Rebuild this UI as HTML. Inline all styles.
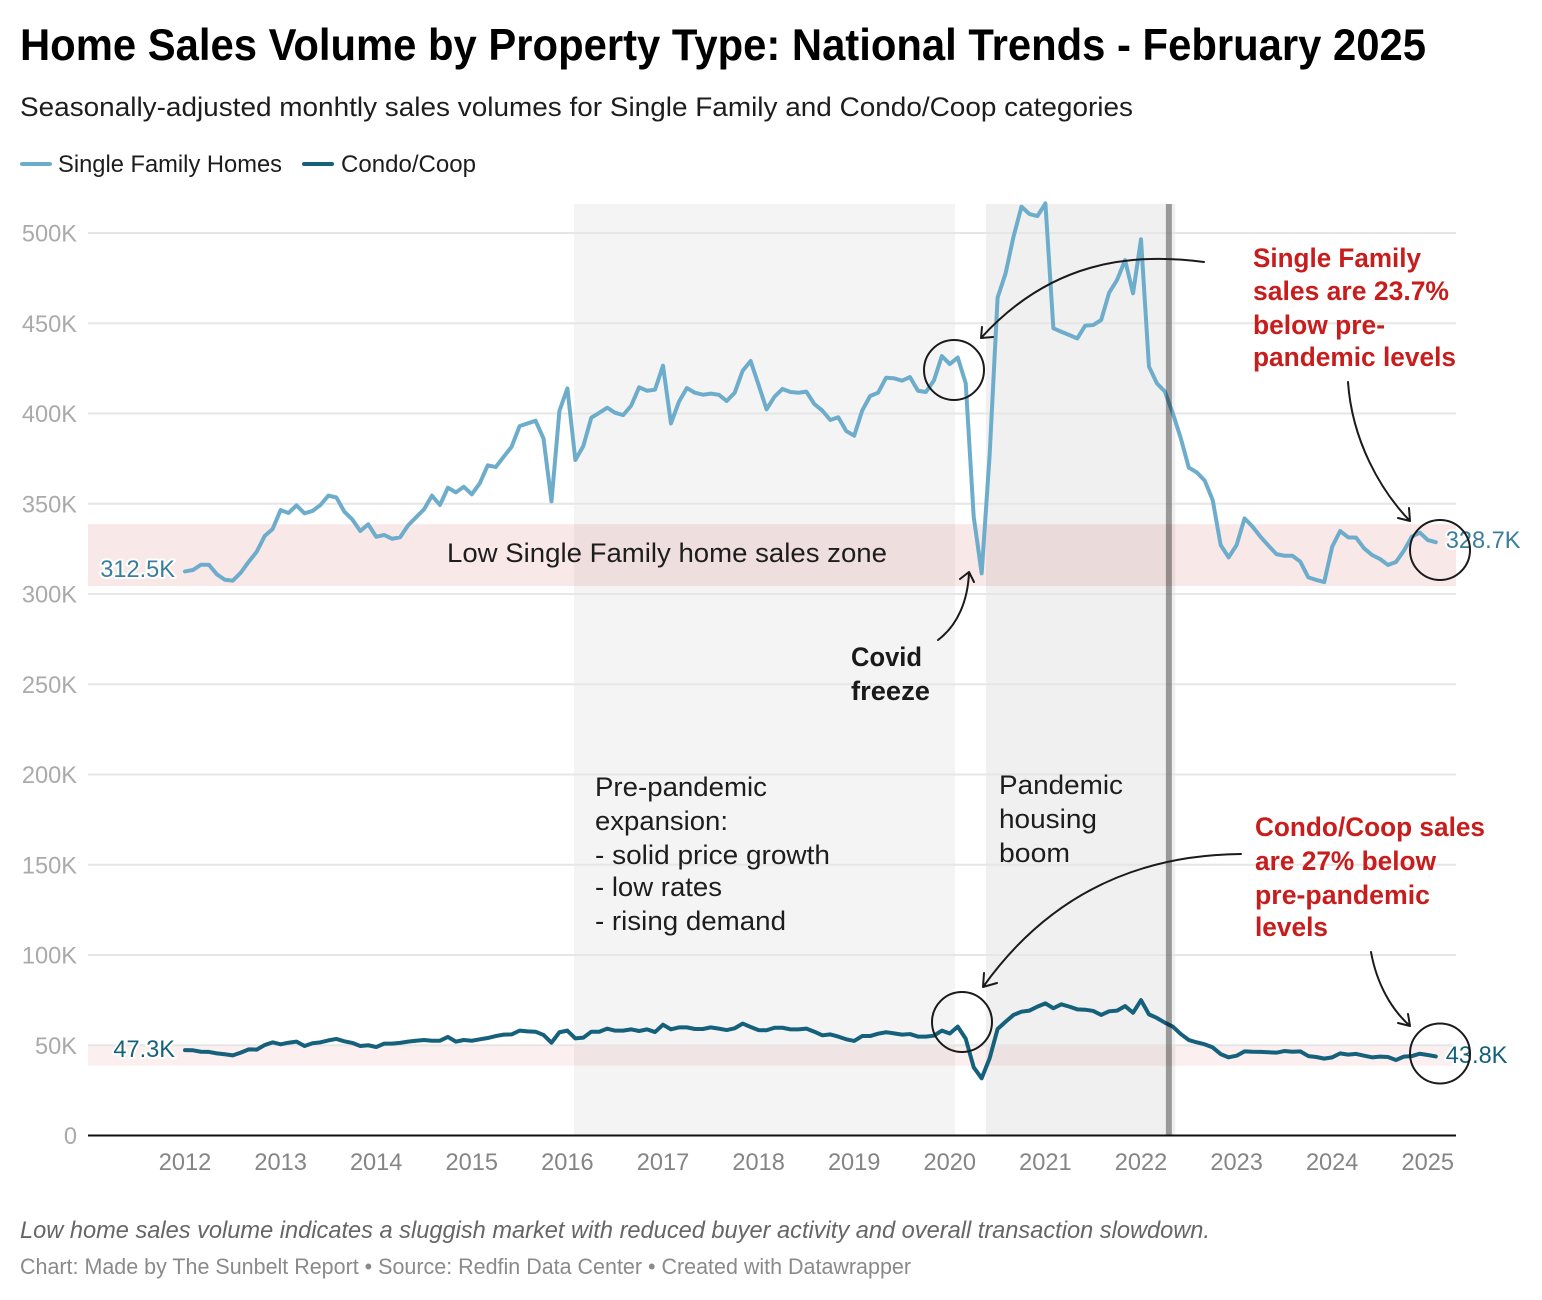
<!DOCTYPE html>
<html lang="en">
<head>
<meta charset="utf-8">
<title>Home Sales Volume by Property Type</title>
<style>
html,body{margin:0;padding:0;background:#fff;}
body{width:1542px;height:1300px;overflow:hidden;}
svg{display:block;font-family:"Liberation Sans",Arial,sans-serif;}
.note{font-size:27px;fill:#1d1d1d;}
.red{font-size:27px;font-weight:700;fill:#c71e1d;}
.tick-y{font-size:23.6px;fill:#aaaaaa;text-anchor:end;}
.tick-x{font-size:23.6px;fill:#858585;text-anchor:middle;}
.dl{font-size:23.6px;paint-order:stroke;stroke:#fff;stroke-width:4px;stroke-linejoin:round;}
.arrow{fill:none;stroke:#1a1a1a;stroke-width:2;stroke-linecap:round;stroke-linejoin:round;}
.circ{fill:none;stroke:#1a1a1a;stroke-width:2;}
</style>
</head>
<body>
<svg id="chart" width="1542" height="1300" viewBox="0 0 1542 1300" xmlns="http://www.w3.org/2000/svg">
  <text x="20" y="60" font-size="44.5" font-weight="700" fill="#000" textLength="1406" lengthAdjust="spacingAndGlyphs">Home Sales Volume by Property Type: National Trends - February 2025</text>
  <text x="20" y="116" font-size="26.5" fill="#1d1d1d" textLength="1113" lengthAdjust="spacingAndGlyphs">Seasonally-adjusted monhtly sales volumes for Single Family and Condo/Coop categories</text>

  <g>
    <line x1="22" x2="50" y1="164" y2="164" stroke="#6dadcb" stroke-width="4" stroke-linecap="round"/>
    <text x="58" y="172" font-size="23.6" fill="#1d1d1d" textLength="224" lengthAdjust="spacingAndGlyphs">Single Family Homes</text>
    <line x1="304" x2="332" y1="164" y2="164" stroke="#15607a" stroke-width="4" stroke-linecap="round"/>
    <text x="341" y="172" font-size="23.6" fill="#1d1d1d" textLength="135" lengthAdjust="spacingAndGlyphs">Condo/Coop</text>
  </g>

  <g id="shades"></g>
  <g id="grid"></g>
  <g id="bands"></g>
  <g id="yaxis"></g>
  <g id="xaxis"></g>
  <g id="series"></g>
  <g id="marker"></g>
  <g id="labels"></g>

  <text class="note" x="447" y="562" textLength="440" lengthAdjust="spacingAndGlyphs">Low Single Family home sales zone</text>

  <g class="note">
    <text x="595" y="796" textLength="172" lengthAdjust="spacingAndGlyphs">Pre-pandemic</text>
    <text x="595" y="830" textLength="133" lengthAdjust="spacingAndGlyphs">expansion:</text>
    <text x="595" y="864" textLength="235" lengthAdjust="spacingAndGlyphs">- solid price growth</text>
    <text x="595" y="896" textLength="127" lengthAdjust="spacingAndGlyphs">- low rates</text>
    <text x="595" y="930" textLength="191" lengthAdjust="spacingAndGlyphs">- rising demand</text>
  </g>
  <g class="note">
    <text x="999" y="794" textLength="124" lengthAdjust="spacingAndGlyphs">Pandemic</text>
    <text x="999" y="828" textLength="98" lengthAdjust="spacingAndGlyphs">housing</text>
    <text x="999" y="862" textLength="71" lengthAdjust="spacingAndGlyphs">boom</text>
  </g>
  <g font-size="27" font-weight="700" fill="#1a1a1a">
    <text x="851" y="666" textLength="71" lengthAdjust="spacingAndGlyphs">Covid</text>
    <text x="851" y="700" textLength="79" lengthAdjust="spacingAndGlyphs">freeze</text>
  </g>
  <g class="red">
    <text x="1253" y="267" textLength="168" lengthAdjust="spacingAndGlyphs">Single Family</text>
    <text x="1253" y="300" textLength="196" lengthAdjust="spacingAndGlyphs">sales are 23.7%</text>
    <text x="1253" y="334" textLength="132" lengthAdjust="spacingAndGlyphs">below pre-</text>
    <text x="1253" y="366" textLength="203" lengthAdjust="spacingAndGlyphs">pandemic levels</text>
  </g>
  <g class="red">
    <text x="1255" y="836" textLength="230" lengthAdjust="spacingAndGlyphs">Condo/Coop sales</text>
    <text x="1255" y="870" textLength="181" lengthAdjust="spacingAndGlyphs">are 27% below</text>
    <text x="1255" y="904" textLength="175" lengthAdjust="spacingAndGlyphs">pre-pandemic</text>
    <text x="1255" y="936" textLength="73" lengthAdjust="spacingAndGlyphs">levels</text>
  </g>

  <g>
    <circle class="circ" cx="954" cy="370" r="30"/>
    <circle class="circ" cx="1440" cy="550" r="30"/>
    <circle class="circ" cx="962" cy="1022" r="30"/>
    <circle class="circ" cx="1440" cy="1053.5" r="30"/>
  </g>
  <g>
    <path class="arrow" d="M1204 262C1130 252 1050 262 981 338M982 327L981 338L993 337"/>
    <path class="arrow" d="M938 640C958 625 968 600 969 572M960 579L969 572L974 582"/>
    <path class="arrow" d="M1348 382C1352 440 1380 490 1410 521M1398 518L1410 521L1409 508"/>
    <path class="arrow" d="M1241 854C1130 855 1045 900 983 987M984 973L983 987L997 983"/>
    <path class="arrow" d="M1371 952C1377 985 1392 1010 1410 1026M1398 1023L1410 1026L1408 1014"/>
  </g>

  <text x="20" y="1238" font-size="23.6" font-style="italic" fill="#666" textLength="1190" lengthAdjust="spacingAndGlyphs">Low home sales volume indicates a sluggish market with reduced buyer activity and overall transaction slowdown.</text>
  <text x="20" y="1274" font-size="22" fill="#8a8a8a" textLength="891" lengthAdjust="spacingAndGlyphs">Chart: Made by The Sunbelt Report • Source: Redfin Data Center • Created with Datawrapper</text>
</svg>

<script>
const xYears = [2012,2013,2014,2015,2016,2017,2018,2019,2020,2021,2022,2023,2024,2025];
const yTicks = [0,50,100,150,200,250,300,350,400,450,500];
const yTickLabels = ["0","50K","100K","150K","200K","250K","300K","350K","400K","450K","500K"];

const singleFamily = [
312.5,313.3,316.2,316.2,310.9,307.9,307.4,311.8,317.9,323.4,332.1,336,
346.5,344.9,349.1,344.7,346,349.3,354.5,353.5,345.6,341.3,334.9,338.6,
331.7,332.7,330.6,331.4,338,342.5,346.9,354.5,349.3,358.9,356.3,359.4,
355.2,361.3,371.3,370.3,376,381.6,393,394.5,396,386.2,351.3,401.5,
413.9,374.2,382,397.7,400.4,403.2,400.4,399.1,404.3,414.5,412.6,413.2,
426.5,394.5,406.5,414.1,411.5,410.4,411,410.4,406.9,411.5,423.7,429.1,
415.8,402.3,409.3,413.6,411.9,411.5,412.1,405.2,401.6,396.4,397.9,390.3,
387.7,401.6,409.7,411.5,419.8,419.5,418.2,420.2,412.6,411.9,418.2,431.8,
427.4,431,416.7,342.8,311.4,377,464.2,477.6,498,514.6,510.5,509.4,
516.4,447.2,445.3,443.5,441.6,448.7,449,451.8,466.9,474,485,466.6,
496.5,426,416.7,412.1,400,386.2,370,367.4,362.8,352,327.1,320.3,
327.1,341.9,337.3,331.7,326.8,322.1,321.2,321.2,317.9,309.2,307.8,306.6,
326.2,334.9,331.4,331.2,325.3,321.6,319.4,316.1,317.7,324,331.8,334,
329.9,328.7];

const condoCoop = [
47.3,47.2,46.4,46.3,45.5,45,44.4,45.9,47.7,47.6,50.1,51.6,
50.5,51.4,52,49.6,51.1,51.6,52.7,53.5,52.2,51.3,49.6,50,
49,50.9,50.9,51.3,52,52.5,52.9,52.5,52.5,54.6,52,52.9,
52.5,53.3,54,55.1,55.9,56,58.1,57.7,57.5,55.7,51.4,57.2,
58.1,53.8,54.2,57.5,57.5,59.2,58.1,58.1,58.8,57.9,58.8,57.3,
61.4,58.8,59.9,59.9,59,59,59.9,59.2,58.4,59.4,62,60.1,
58.4,58.3,59.7,59.7,58.8,58.8,59.2,57.5,55.5,56,54.8,53.3,
52.4,55.1,55.1,56.4,57.2,56.6,55.9,56.2,54.8,54.8,55.3,58.1,
56.5,60.3,53.6,37.8,31.7,42.8,59,63,66.8,68.6,69.2,71.4,
73.2,70.5,72.7,71.4,69.9,69.7,69,66.8,68.8,69.2,71.7,68,
75,67.1,65.1,62.5,60.3,56.2,52.9,51.6,50.5,48.8,45.1,43.3,
44.2,46.6,46.4,46.3,46.1,45.9,46.8,46.4,46.6,44,43.5,42.6,
43.3,45.5,44.8,45.2,44.2,43.3,43.7,43.5,41.8,43.7,44,45.3,
44.6,43.8];

const sfBandRange = [304.4, 338.7];
const condoBandRange = [38.7, 50];
const prePandemicMonths = [48.83, 96.65];
const pandemicMonths = [100.54, 124.3];
const eventMonth = 123.5;

const SVGNS = "http://www.w3.org/2000/svg";
function xScale(i){ return 185 + i * (95.6 / 12); }
function yScale(v){ return 1135.5 - v * 1.805; }
function add(parent, tag, attrs, txt){
  const el = document.createElementNS(SVGNS, tag);
  for (const k in attrs) el.setAttribute(k, attrs[k]);
  if (txt !== undefined) el.textContent = txt;
  document.getElementById(parent).appendChild(el);
  return el;
}
const plotL = 88, plotR = 1456, plotT = 204;

/* shaded periods */
let el = add("shades","rect",{x:xScale(prePandemicMonths[0]),y:plotT,width:xScale(prePandemicMonths[1])-xScale(prePandemicMonths[0]),height:yScale(0)-plotT,fill:"#f4f4f4"});


el = add("shades","rect",{x:xScale(pandemicMonths[0]),y:plotT,width:xScale(pandemicMonths[1])-xScale(pandemicMonths[0]),height:yScale(0)-plotT,fill:"#f0f0f0"});



/* gridlines and y ticks */
yTicks.forEach(function(t, i){
  if (t > 0) {
    const g = add("grid","line",{x1:plotL,x2:plotR,y1:yScale(t),y2:yScale(t),stroke:"#e6e6e6","stroke-width":2});
    
    
  }
  const lab = add("yaxis","text",{class:"tick-y",x:77,y:yScale(t)+8.5}, yTickLabels[i]);
  
  
});

/* low-sales bands */
el = add("bands","rect",{x:plotL,y:yScale(sfBandRange[1]),width:plotR-plotL,height:yScale(sfBandRange[0])-yScale(sfBandRange[1]),fill:"#c71e1d","fill-opacity":0.1});


el = add("bands","rect",{x:plotL,y:yScale(condoBandRange[1])+1,width:plotR-plotL,height:yScale(condoBandRange[0])-yScale(condoBandRange[1])-1,fill:"#c71e1d","fill-opacity":0.07});



/* x axis */
el = add("xaxis","line",{x1:plotL,x2:plotR,y1:yScale(0),y2:yScale(0),stroke:"#111","stroke-width":2});


xYears.forEach(function(y){
  const lab = add("xaxis","text",{class:"tick-x",x:xScale((y - xYears[0]) * 12),y:1170}, String(y));
  
  
});

/* series */
function linePath(vals){
  return vals.map(function(v,i){ return (i ? "L" : "M") + xScale(i).toFixed(2) + " " + yScale(v).toFixed(2); }).join("");
}
el = add("series","path",{d:linePath(singleFamily),fill:"none",stroke:"#6dadcb","stroke-width":4,"stroke-linejoin":"round","stroke-linecap":"round"});


el = add("series","path",{d:linePath(condoCoop),fill:"none",stroke:"#15607a","stroke-width":4,"stroke-linejoin":"round","stroke-linecap":"round"});



/* event marker drawn over series */
el = add("marker","rect",{x:xScale(eventMonth)-3,y:plotT,width:6,height:yScale(0)-plotT,fill:"#000","fill-opacity":0.36});



/* end labels */
function fmt(v){ return v.toFixed(1) + "K"; }
const lastI = singleFamily.length - 1;
el = add("labels","text",{class:"dl",x:175,y:yScale(singleFamily[0])+5.5,"text-anchor":"end",fill:"#3a7d9c"}, fmt(singleFamily[0]));


el = add("labels","text",{class:"dl",x:xScale(lastI)+10,y:yScale(singleFamily[lastI])+6,fill:"#3a7d9c"}, fmt(singleFamily[lastI]));


el = add("labels","text",{class:"dl",x:175,y:yScale(condoCoop[0])+7,"text-anchor":"end",fill:"#15607a"}, fmt(condoCoop[0]));


el = add("labels","text",{class:"dl",x:xScale(lastI)+10,y:yScale(condoCoop[lastI])+6.5,fill:"#15607a"}, fmt(condoCoop[lastI]));


</script>
</body>
</html>
